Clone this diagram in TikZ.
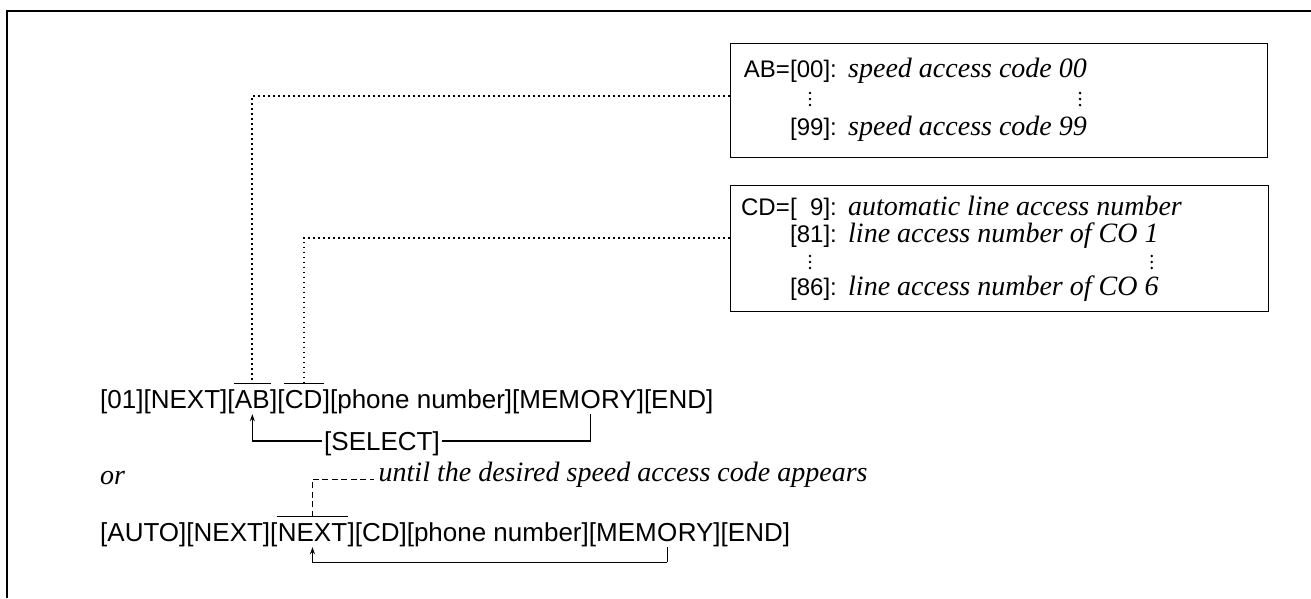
\documentclass[tikz,border=0pt]{standalone}
\usepackage{fontspec}
\setmainfont{Liberation Sans}
\newfontfamily\serifit{Liberation Serif}
\usetikzlibrary{arrows.meta,calc}
\begin{document}
\begin{tikzpicture}[x=1pt,y=-1pt,
  sf/.style={inner sep=0pt, font=\fontsize{26}{30}\selectfont},
  bsf/.style={inner sep=0pt, font=\fontsize{24}{28}\selectfont},
  itx/.style={inner sep=0pt, font=\serifit\itshape\fontsize{28}{32}\selectfont},
  frameline/.style={line width=1.6pt},
  boxr/.style={draw, line width=1.3pt, inner sep=0pt, anchor=north west},
  dotline/.style={line width=1.7pt, dash pattern=on 1.7pt off 3.3pt},
  dashline/.style={line width=1.1pt, dash pattern=on 6pt off 3.5pt},
  bracket/.style={line width=1.1pt},
  tip/.style={-{Stealth[length=7pt,width=5pt]}},
  ovl/.style={line width=1.1pt},
  vd/.pic={\fill (0,-6) circle[radius=1.4]; \fill (0,0) circle[radius=1.4]; \fill (0,6) circle[radius=1.4];}
]
\useasboundingbox (0,0) rectangle (1311,598);
% outer frame
\coordinate (fbl) at (7,598);
\coordinate (ftl) at (7,11);
\coordinate (ftr) at (1312,11);
\draw[frameline] (fbl) -- (ftl) -- (ftr);

% box 1
\node[boxr, minimum width=537, minimum height=114] (box1) at (730,43) {};
\node[bsf, anchor=base east] (ab0) at (790,77) {AB=};
\node[bsf, anchor=base west] (ab1) at (790,77) {[00]:};
\node[itx, anchor=base west] (ab2) at (848,77) {speed access code 00};
\node[bsf, anchor=base west] (ab3) at (790,135) {[99]:};
\node[itx, anchor=base west] (ab4) at (848,135) {speed access code 99};
\pic at (810,99) {vd};
\pic at ($(ab2.base east)+(-7,22)$) {vd};

% box 2
\node[boxr, minimum width=538, minimum height=126] (box2) at (730,185) {};
\node[bsf, anchor=base east] (cd0) at (790,215) {CD=};
\node[bsf, anchor=base west] (cd1) at (790,215) {[\phantom{0}9]:};
\node[itx, anchor=base west] (cd2) at (848,215) {automatic line access number};
\node[bsf, anchor=base west] (cd3) at (790,242) {[81]:};
\node[itx, anchor=base west] (cd4) at (848,242) {line access number of CO 1};
\node[bsf, anchor=base west] (cd5) at (790,295) {[86]:};
\node[itx, anchor=base west] (cd6) at (848,295) {line access number of CO 6};
\pic at (810,262) {vd};
\pic at ($(cd4.base east)+(-7,20)$) {vd};

% line 1
\node[sf, anchor=base west] (a1) at (100,408) {[01][NEXT][};
\node[sf, anchor=base west] (ab) at (a1.base east) {AB};
\node[sf, anchor=base west] (a2) at (ab.base east) {][};
\node[sf, anchor=base west] (cd) at (a2.base east) {CD};
\node[sf, anchor=base west] (a3) at (cd.base east) {][phone number][MEM};
\node[sf, anchor=base west] (mo) at (a3.base east) {O};
\node[sf, anchor=base west] (a4) at (mo.base east) {RY][END]};

\draw[ovl] ($(ab.north west)+(-1,-6)$) -- ($(ab.north east)+(1,-6)$);
\draw[ovl] ($(cd.north west)+(-1,-6)$) -- ($(cd.north east)+(1,-6)$);

% dotted connectors
\coordinate (abtop) at ($(ab.north)+(0,-6)$);
\coordinate (cdtop) at ($(cd.north)+(0,-6)$);
\draw[dotline] (box1.west |- 0,96) -- (abtop |- 0,96) -- (abtop);
\draw[dotline] (box2.west |- 0,238) -- (cdtop |- 0,238) -- (cdtop);

% SELECT loop
\node[sf, anchor=base] (sel) at (382,450) {[SELECT]};
\coordinate (selL) at ($(sel.base west)+(-2,-9)$);
\coordinate (selR) at ($(sel.base east)+(2,-9)$);
\draw[bracket, tip] (selL) -| ($(ab.south)+(0,6)$);
\draw[bracket] (selR) -| ($(mo.south)+(0,6)$);

% or
\node[itx, anchor=base west] (or) at (100,484) {or};

% line 2
\node[sf, anchor=base west] (b1) at (100,541) {[AUTO][NEXT][};
\node[sf, anchor=base west] (nx) at (b1.base east) {NEXT};
\node[sf, anchor=base west] (b2) at (nx.base east) {][CD][phone number][MEM};
\node[sf, anchor=base west] (mo2) at (b2.base east) {O};
\node[sf, anchor=base west] (b3) at (mo2.base east) {RY][END]};
\draw[ovl] ($(nx.north west)+(-1,-6)$) -- ($(nx.north east)+(1,-6)$);

% until
\node[itx, anchor=base west] (until) at ($(nx.north)+(66,-41)$) {until the desired speed access code appears};
\coordinate (nxtop) at ($(nx.north)+(0,-6)$);
\draw[dashline] (nxtop) -- (nxtop |- until.mid) -- ($(until.mid west)+(-4,0)$);

% bottom loop
\coordinate (bl) at ($(nx.south)+(0,21)$);
\draw[bracket, tip] (bl -| mo2.south) -- (bl) -- ($(nx.south)+(0,6)$);
\draw[bracket] (bl -| mo2.south) -- ($(mo2.south)+(0,6)$);
\end{tikzpicture}
\end{document}
